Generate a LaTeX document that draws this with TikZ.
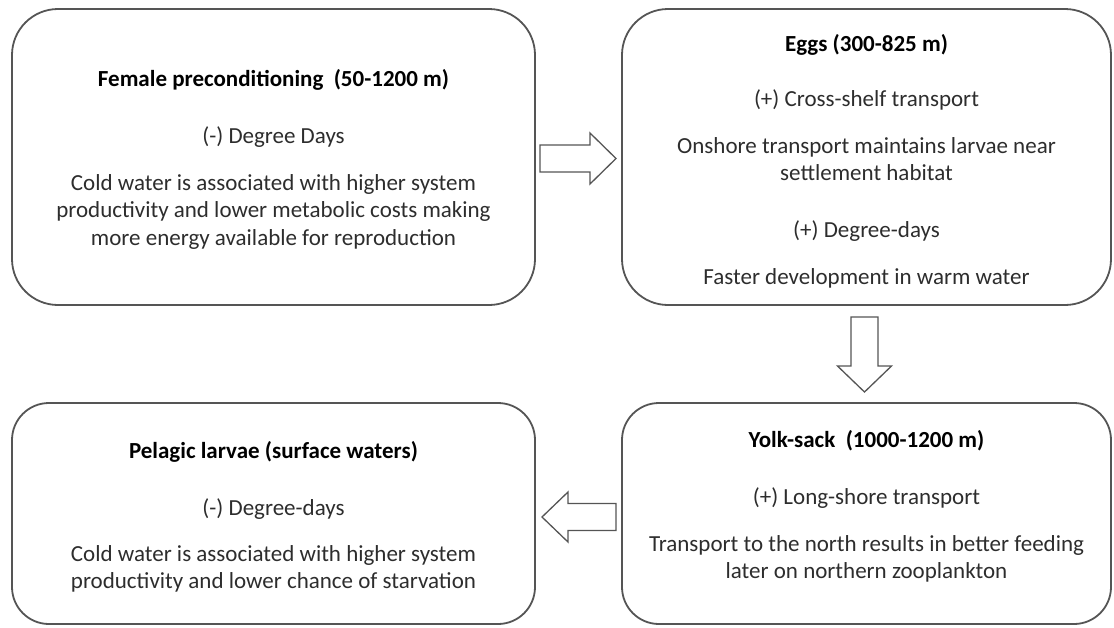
\documentclass[tikz,border=0pt]{standalone}
\usepackage{fontspec}
\setmainfont{Carlito}
\definecolor{edge}{RGB}{85,85,85}
\definecolor{txt}{RGB}{45,45,45}
\tikzset{
  stagebox/.style={draw=edge, line width=1.8pt, rounded corners=#1},
  para/.style={anchor=base, align=center, inner sep=0pt, text=txt,
    font=\fontsize{23}{27.5}\selectfont},
  ttl/.style={para, text=black, font=\fontsize{23}{27.5}\selectfont\bfseries},
  blockarrow/.style={draw=edge, line width=1.3pt, fill=white, line join=miter}
}
\begin{document}
\begin{tikzpicture}[x=1pt,y=-1pt]
\useasboundingbox (0,0) rectangle (1114,627);
% boxes
\draw[stagebox=46pt] (12,9) rectangle (535,305);
\node[inner sep=0pt] (b1) at (273.5,157) {};
\draw[stagebox=46pt] (622,9) rectangle (1111,305);
\node[inner sep=0pt] (b2) at (866.5,157) {};
\draw[stagebox=37pt] (12,403) rectangle (535,624);
\node[inner sep=0pt] (b3) at (273.5,513) {};
\draw[stagebox=37pt] (622,403) rectangle (1111,624);
\node[inner sep=0pt] (b4) at (866.5,513) {};

% box 1 text (base anchor = baseline of last line)
\node[ttl] (t1) at (273.5,86) {Female preconditioning\ \ (50-1200 m)};
\node[para] (t1a) at (273.5,143) {(-) Degree Days};
\node[para] (t1b) at (273.5,245) {Cold water is associated with higher system\\productivity and lower metabolic costs making\\more energy available for reproduction};

% box 2 text
\node[ttl] (t2) at (866.5,51) {Eggs (300-825 m)};
\node[para] (t2a) at (866.5,106) {(+) Cross-shelf transport};
\node[para] (t2b) at (866.5,180.5) {Onshore transport maintains larvae near\\settlement habitat};
\node[para] (t2c) at (866.5,237) {(+) Degree-days};
\node[para] (t2d) at (866.5,284) {Faster development in warm water};

% box 3 text
\node[ttl] (t3) at (273.5,458) {Pelagic larvae (surface waters)};
\node[para] (t3a) at (273.5,515) {(-) Degree-days};
\node[para] (t3b) at (273.5,588.5) {Cold water is associated with higher system\\productivity and lower chance of starvation};

% box 4 text
\node[ttl] (t4) at (866.5,447) {Yolk-sack\ \ (1000-1200 m)};
\node[para] (t4a) at (866.5,504) {(+) Long-shore transport};
\node[para] (t4b) at (866.5,578.5) {Transport to the north results in better feeding\\later on northern zooplankton};

% block arrows
\draw[blockarrow] (540,145) -- (590,145) -- (590,133) -- (616,158.5) -- (590,184) -- (590,172) -- (540,172) -- cycle;
\draw[blockarrow] (851,317) -- (878,317) -- (878,366) -- (891.5,366) -- (864.5,392) -- (837.5,366) -- (851,366) -- cycle;
\draw[blockarrow] (616,503.5) -- (568,503.5) -- (568,492) -- (542,517) -- (568,542) -- (568,530.5) -- (616,530.5) -- cycle;
\end{tikzpicture}
\end{document}
